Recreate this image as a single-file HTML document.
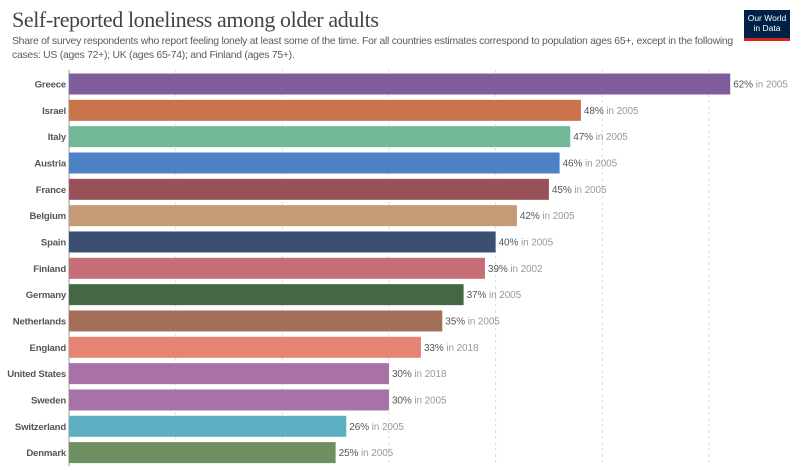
<!DOCTYPE html>
<html><head><meta charset="utf-8"><style>
body{margin:0;background:#fff;}
#wrap{position:relative;width:800px;height:476px;overflow:hidden;font-family:"Liberation Sans",sans-serif;}
h1{position:absolute;left:12px;top:7px;margin:0;font-family:"Liberation Serif",serif;font-weight:normal;font-size:22px;color:#444;letter-spacing:-0.4px;}
#sub{position:absolute;left:12px;top:35px;width:740px;font-size:10.4px;line-height:14px;color:#5b5b5b;letter-spacing:-0.25px;}
#logo{position:absolute;left:744px;top:10px;width:46px;background:#002147;border-bottom:3px solid #ce261e;color:#fff;font-size:8.5px;line-height:10px;text-align:center;padding-top:3px;height:25px;}
</style></head><body>
<div id="wrap">
<h1>Self-reported loneliness among older adults</h1>
<div id="sub">Share of survey respondents who report feeling lonely at least some of the time. For all countries estimates correspond to population ages 65+, except in the following<br>cases: US (ages 72+); UK (ages 65-74); and Finland (ages 75+).</div>
<div id="logo">Our World<br>in Data</div>
<svg id="chart" width="800" height="476" style="position:absolute;left:0;top:0"></svg>
</div>
<script>
const countries=["Greece","Israel","Italy","Austria","France","Belgium","Spain","Finland","Germany","Netherlands","England","United States","Sweden","Switzerland","Denmark"];
const values=[62,48,47,46,45,42,40,39,37,35,33,30,30,26,25];
const years=["2005","2005","2005","2005","2005","2005","2005","2002","2005","2005","2018","2018","2005","2005","2005"];
const colors=["#7f5d9c","#c9724c","#72b897","#4e80c5","#9a5059","#c49b76","#3b4f72","#c76d78","#436843","#a36f58","#e58472","#a972a6","#a972a6","#5bafc0","#6e8f61"];
const gridTicks=[10,20,30,40,50,60];
const NS="http://www.w3.org/2000/svg";
const svg=document.getElementById('chart');
const x0=69,pxPer=10.665,top0=73.5,step=26.33,bh=21;
const xs=v=>x0+v*pxPer;
const ys=i=>top0+i*step;
function mk(t,a){const e=document.createElementNS(NS,t);for(const k in a)e.setAttribute(k,a[k]);svg.appendChild(e);return e;}
gridTicks.forEach(t=>{
 const l=mk('line',{x1:xs(t),x2:xs(t),y1:70,y2:466,stroke:'#ddd','stroke-dasharray':'3,3'});
 
 
});
const ax=mk('line',{x1:x0,x2:x0,y1:70,y2:466,stroke:'#999'});


countries.forEach((c,i)=>{
 const y=ys(i);
 const r=mk('rect',{x:x0,y:y,width:xs(values[i])-x0,height:bh,fill:colors[i]});
 
 
 const lb=mk('text',{x:x0-3,y:y+bh/2+3.5,'text-anchor':'end','font-size':'9.6','font-weight':'bold',fill:'#555','letter-spacing':'-0.2'});
 lb.textContent=c;
 
 
 const vl=mk('text',{x:xs(values[i])+3,y:y+bh/2+3.5,'font-size':'10',fill:'#555','letter-spacing':'-0.1'});
 vl.innerHTML=values[i]+'%<tspan fill="#999"> in '+years[i]+'</tspan>';
 
 
});
</script>
</body></html>
